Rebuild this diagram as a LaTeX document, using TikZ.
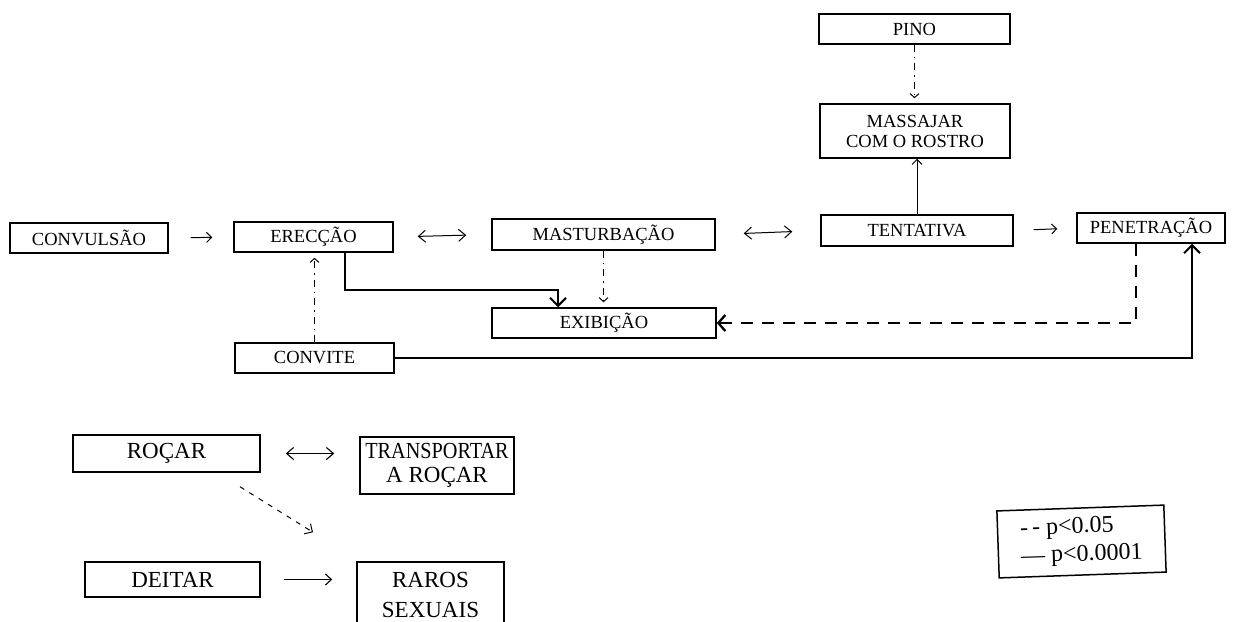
\documentclass[tikz,border=0pt]{standalone}
\usepackage{fontspec}
\setmainfont{Liberation Serif}
\usetikzlibrary{arrows.meta}
\begin{document}
\begin{tikzpicture}[x=1pt,y=-1pt,
  wh/.style 2 args={minimum width=#1pt, minimum height=#2pt},
  box/.style={draw, line width=1.5pt, inner sep=0pt, align=center, font=\fontsize{18.5}{20}\selectfont},
  bigbox/.style={box, font=\fontsize{23}{24}\selectfont},
  sym/.style={line width=1pt, -{Straight Barb[length=5pt,width=10pt]}},
  symbig/.style={line width=1.1pt, -{Straight Barb[length=6pt,width=11pt]}},
  dsym/.style={line width=1pt, {Straight Barb[length=7pt,width=12pt]}-{Straight Barb[length=7pt,width=12pt]}},
  strong/.style={line width=2pt, -{Straight Barb[length=8pt,width=16pt]}},
  weak/.style={line width=1pt, dash pattern=on 7pt off 5pt on 1.5pt off 5pt, -{Straight Barb[length=4pt,width=9pt]}},
  weakthick/.style={line width=2.3pt, dash pattern=on 12pt off 9pt, -{Straight Barb[length=7pt,width=16pt]}},
  weakthin/.style={line width=1pt, dash pattern=on 5pt off 6pt, -{Straight Barb[length=6pt,width=12pt]}}
]
\useasboundingbox (0,0) rectangle (1236,621);
\clip (0,0) rectangle (1236,621);
\fill[white] (0,0) rectangle (1236,621);

% nodes
\node[box, wh={158}{30}] (conv) at (89,238) {CONVULSÃO};
\node[box, wh={159}{30}] (erec) at (313.5,237) {ERECÇÃO};
\node[box, wh={223}{31}] (mast) at (603.5,234.5) {MASTURBAÇÃO};
\node[box, wh={192}{31}] (tent) at (917,230.5) {TENTATIVA};
\node[box, wh={148}{30}] (pene) at (1151,228) {PENETRAÇÃO};
\node[box, wh={224}{30}] (exib) at (604,323) {EXIBIÇÃO};
\node[box, wh={159}{30}] (convite) at (314.5,358) {CONVITE};
\node[box, wh={191}{30}] (pino) at (914.5,29) {PINO};
\node[box, wh={190}{54}] (massa) at (915,131) {MASSAJAR\\COM O ROSTRO};
\node[bigbox, wh={187}{37}] (rocar) at (166.5,453.5) {ROÇAR};
\node[bigbox, wh={154}{57}] (transp) at (437,465.5) {\scalebox{0.88}[1]{TRANSPORTAR}\\A ROÇAR};
\node[bigbox, wh={175}{35}] (deitar) at (172.5,579.5) {DEITAR};
\node[bigbox, wh={147}{66}, font=\fontsize{23}{30}\selectfont] (raros) at (430.5,595) {RAROS\\SEXUAIS};
\node[bigbox, wh={167}{67}, align=left, rotate=2, font=\fontsize{24}{28}\selectfont] (leg) at (1081.5,541.5) {-\,- p<0.05\\— p<0.0001};

% main row connectors
\draw[sym, shorten <=22pt, shorten >=21pt] (conv.east) -- (erec.west);
\draw[dsym, shorten <=24pt, shorten >=25pt] (erec.east) -- (mast.west);
\draw[dsym, shorten <=28pt, shorten >=28pt] (mast.east) -- (tent.west);
\draw[sym, shorten <=20pt, shorten >=19pt] (tent.east) -- (pene.west);

% vertical connectors
\draw[sym] (tent.north) -- (tent.north |- massa.south);
\draw[weak, shorten >=5pt] (pino.south) -- (pino.south |- massa.north);
\draw[weak, shorten >=5pt] (convite.north) -- (convite.north |- erec.south);
\draw[weak, shorten >=5pt] (mast.south) -- (mast.south |- exib.north);

% routed connectors
\draw[strong] ([xshift=31.5pt]erec.south) -- ++(0,37) -| ([xshift=-46pt]exib.north);
\draw[weakthick] ([xshift=-15pt]pene.south) |- (exib.east);
\draw[strong] (convite.east) -| ([xshift=41pt]pene.south);

% bottom group
\draw[dsym, line width=1.1pt, shorten <=25pt, shorten >=25pt] (rocar.east) -- (rocar.east -| transp.west);
\draw[weakthin] ([shift={(73.5,14)}]rocar.south) -- ([shift={(-117.5,-29)}]raros.north);
\draw[symbig, shorten <=23pt, shorten >=24pt] (deitar.east) -- (deitar.east -| raros.west);
\end{tikzpicture}
\end{document}
